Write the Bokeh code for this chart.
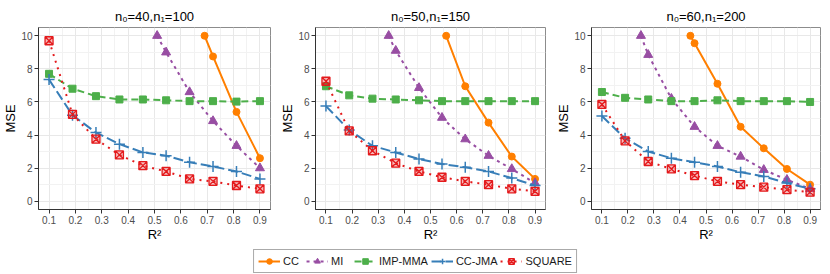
from bokeh.plotting import figure
from bokeh.layouts import row, column
from bokeh.models import FixedTicker, Legend, LegendItem, Range1d
from bokeh.embed import file_html
from bokeh.resources import INLINE

# ---------------- data ----------------
r2 = [0.1, 0.189, 0.278, 0.367, 0.456, 0.544, 0.633, 0.722, 0.811, 0.9]
x_ticks = [0.1, 0.2, 0.3, 0.4, 0.5, 0.6, 0.7, 0.8, 0.9]
y_ticks = [0, 2, 4, 6, 8, 10]
titles = ["n₀=40,n₁=100", "n₀=50,n₁=150", "n₀=60,n₁=200"]
series_names = ["CC", "MI", "IMP-MMA", "CC-JMA", "SQUARE"]

# panel 1: n0=40, n1=100
p1_cc_x = [0.69, 0.722, 0.811, 0.9]
p1_cc_y = [10, 8.75, 5.4, 2.6]
p1_mi_x = [0.51, 0.544, 0.633, 0.722, 0.811, 0.9]
p1_mi_y = [10, 9.0, 6.6, 4.85, 3.35, 2.0]
p1_imp = [7.7, 6.8, 6.35, 6.15, 6.15, 6.1, 6.05, 6.05, 6.02, 6.05]
p1_jma = [7.35, 5.2, 4.15, 3.45, 2.95, 2.75, 2.35, 2.1, 1.8, 1.35]
p1_sq = [9.7, 5.25, 3.75, 2.8, 2.15, 1.8, 1.35, 1.2, 0.95, 0.75]

# panel 2: n0=50, n1=150
p2_cc_x = [0.56, 0.633, 0.722, 0.811, 0.9]
p2_cc_y = [10, 6.95, 4.75, 2.7, 1.35]
p2_mi_x = [0.34, 0.367, 0.456, 0.544, 0.633, 0.722, 0.811, 0.9]
p2_mi_y = [10, 9.1, 6.85, 5.05, 3.75, 2.75, 1.95, 1.1]
p2_imp = [6.95, 6.4, 6.2, 6.15, 6.1, 6.05, 6.05, 6.05, 6.05, 6.05]
p2_jma = [5.75, 4.3, 3.35, 2.95, 2.55, 2.25, 2.05, 1.8, 1.4, 0.95]
p2_sq = [7.25, 4.25, 3.05, 2.3, 1.8, 1.45, 1.2, 1.0, 0.75, 0.6]

# panel 3: n0=60, n1=200
p3_cc_x = [0.44, 0.456, 0.544, 0.633, 0.722, 0.811, 0.9]
p3_cc_y = [10, 9.55, 7.1, 4.5, 3.2, 1.95, 1.0]
p3_mi_x = [0.25, 0.278, 0.367, 0.456, 0.544, 0.633, 0.722, 0.811, 0.9]
p3_mi_y = [10, 8.85, 6.2, 4.5, 3.35, 2.7, 1.9, 1.3, 0.75]
p3_imp = [6.6, 6.25, 6.15, 6.05, 6.05, 6.1, 6.05, 6.05, 6.05, 6.0]
p3_jma = [5.15, 3.8, 3.0, 2.6, 2.35, 2.1, 1.75, 1.5, 1.1, 0.75]
p3_sq = [5.85, 3.65, 2.4, 1.95, 1.55, 1.2, 1.0, 0.85, 0.7, 0.55]

# ---------------- styles ----------------
FONT = "Liberation Sans"
C_CC, C_MI, C_IMP, C_JMA, C_SQ = "#FF7F00", "#984EA3", "#4DAF4A", "#377EB8", "#E41A1C"

STY = {
    "CC": dict(color=C_CC, dash="solid", marker="circle", size=7),
    "MI": dict(color=C_MI, dash="3 4", marker="triangle", size=9),
    "IMP-MMA": dict(color=C_IMP, dash="7 4", marker="square", size=7),
    "CC-JMA": dict(color=C_JMA, dash="10 4", marker="cross", size=11),
    "SQUARE": dict(color=C_SQ, dash="2 5", marker="square_x", size=8),
}


def draw_series(p, name, xs, ys):
    s = STY[name]
    lr = p.line(xs, ys, line_color=s["color"], line_width=2, line_dash=s["dash"])
    if s["marker"] == "cross":
        mr = p.scatter(xs, ys, marker="cross", size=s["size"], line_color=s["color"], line_width=1.5)
    elif s["marker"] == "square_x":
        mr = p.scatter(xs, ys, marker="square_x", size=s["size"], line_color=s["color"],
                       fill_color=s["color"], fill_alpha=0.3, line_width=1.3)
    else:
        mr = p.scatter(xs, ys, marker=s["marker"], size=s["size"], line_color=s["color"],
                       fill_color=s["color"])
    return lr, mr


def make_panel(title, cc_x, cc_y, mi_x, mi_y, imp, jma, sq, fw, bl, br):
    p = figure(frame_width=fw, frame_height=182, toolbar_location=None, output_backend="svg",
               x_range=Range1d(0.06, 0.94), y_range=Range1d(-0.5, 10.5),
               min_border_left=bl, min_border_right=br, min_border_top=27, min_border_bottom=38)
    p.title.text = title
    p.title.align = "center"
    p.title.text_font = FONT
    p.title.text_font_size = "13px"
    p.title.text_font_style = "normal"
    p.title.text_color = "#000000"
    p.title.standoff = 8

    p.xaxis.ticker = FixedTicker(ticks=x_ticks, minor_ticks=[0.15, 0.25, 0.35, 0.45, 0.55, 0.65, 0.75, 0.85])
    p.yaxis.ticker = FixedTicker(ticks=y_ticks, minor_ticks=[1, 3, 5, 7, 9])
    p.xaxis.axis_label = "R²"
    p.yaxis.axis_label = "MSE"
    for ax in (p.xaxis[0], p.yaxis[0]):
        ax.axis_label_text_font = FONT
        ax.axis_label_text_font_size = "13px"
        ax.axis_label_text_font_style = "normal"
        ax.axis_label_text_color = "#000000"
        ax.axis_label_standoff = 0
        ax.major_label_text_font = FONT
        ax.major_label_text_font_size = "10px"
        ax.major_label_text_color = "#4d4d4d"
        ax.major_label_standoff = 2
        ax.major_tick_out = 4
        ax.major_tick_in = 0
        ax.minor_tick_line_color = None
        ax.axis_line_color = "#333333"
        ax.major_tick_line_color = "#333333"
    p.xgrid.grid_line_color = "#e8e8e8"
    p.ygrid.grid_line_color = "#e8e8e8"
    p.xgrid.minor_grid_line_color = "#f2f2f2"
    p.ygrid.minor_grid_line_color = "#f2f2f2"
    p.outline_line_color = "#8c8c8c"
    p.outline_line_width = 1

    draw_series(p, "CC", cc_x, cc_y)
    draw_series(p, "MI", mi_x, mi_y)
    draw_series(p, "IMP-MMA", r2, imp)
    draw_series(p, "CC-JMA", r2, jma)
    draw_series(p, "SQUARE", r2, sq)
    return p


f1 = make_panel(titles[0], p1_cc_x, p1_cc_y, p1_mi_x, p1_mi_y, p1_imp, p1_jma, p1_sq, 232, 38, 7)
f2 = make_panel(titles[1], p2_cc_x, p2_cc_y, p2_mi_x, p2_mi_y, p2_imp, p2_jma, p2_sq, 230, 38, 8)
f3 = make_panel(titles[2], p3_cc_x, p3_cc_y, p3_mi_x, p3_mi_y, p3_imp, p3_jma, p3_sq, 229, 38, 10)

# ---------------- legend strip ----------------
lg = figure(width=830, height=27, toolbar_location=None, output_backend="svg",
            x_range=Range1d(0, 1), y_range=Range1d(0, 1),
            x_axis_location=None, y_axis_location=None, min_border=0)
lg.grid.visible = False
lg.outline_line_color = None
items = []
for name in series_names:
    lr, mr = draw_series(lg, name, [-5, -4], [-5, -4])
    items.append(LegendItem(label=name, renderers=[lr, mr]))
legend = Legend(items=items, orientation="horizontal", location="center",
                glyph_width=22, glyph_height=14, label_height=14, label_standoff=3,
                spacing=3, padding=4, margin=0,
                label_text_font=FONT, label_text_font_size="11px", label_text_color="#1a1a1a",
                border_line_color="#555555", border_line_width=1, background_fill_color="white")
lg.add_layout(legend)

layout = column(row(f1, f2, f3), lg)
open("out.html", "w").write(file_html(layout, INLINE))
